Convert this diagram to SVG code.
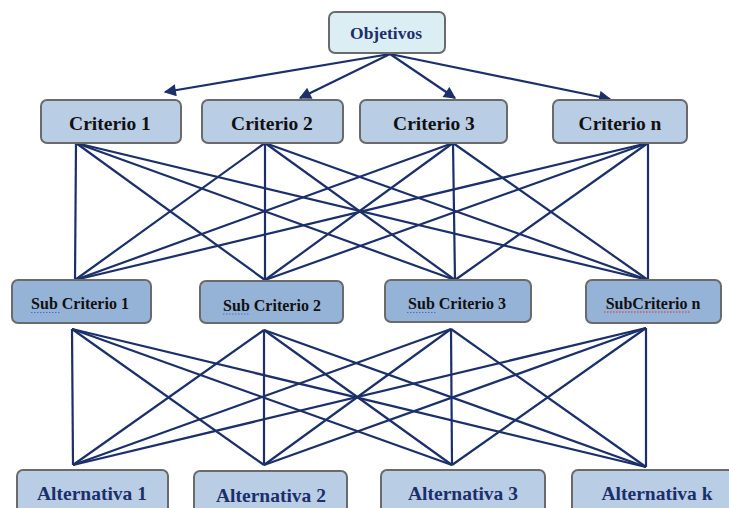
<svg xmlns="http://www.w3.org/2000/svg" width="729" height="508" viewBox="0 0 729 508">
<defs>
<marker id="arr" viewBox="0 0 10 10" refX="9" refY="5" markerWidth="6" markerHeight="5.5" markerUnits="strokeWidth" orient="auto">
<path d="M0,0 L10,5 L0,10 z" fill="#1B2F6B"/>
</marker>
<style>
.box{stroke:#6A6A6A;stroke-width:2}
.obj{fill:#DBEEF4}
.cri{fill:#B9CDE5}
.sub{fill:#95B3D7}
.alt{fill:#B9CDE5}
.t{font-family:"Liberation Serif","Times New Roman",serif;font-weight:bold;text-anchor:middle}
.tc{font-size:19.5px;fill:#111}
.ts{font-size:16px;fill:#111}
.ta{font-size:19.5px;fill:#1B2F6B}
.to{font-size:17.5px;fill:#1B2F6B}
.ln{stroke:#1B2F6B;stroke-width:2.2;fill:none}
.sp{stroke:#4A6FD0;stroke-width:1;stroke-dasharray:1.5 1.5}
.spr{stroke:#E03030;stroke-width:1;stroke-dasharray:1.5 1.5}
</style>
</defs>
<rect width="729" height="508" fill="#fff"/>
<g id="connectors">
<line class="ln" x1="390" y1="54" x2="165" y2="92" marker-end="url(#arr)"/>
<line class="ln" x1="390" y1="54" x2="300" y2="98" marker-end="url(#arr)"/>
<line class="ln" x1="390" y1="54" x2="455" y2="98" marker-end="url(#arr)"/>
<line class="ln" x1="390" y1="54" x2="610" y2="99" marker-end="url(#arr)"/>
<g>
<line class="ln" x1="76" y1="143" x2="75" y2="280"/>
<line class="ln" x1="76" y1="143" x2="265" y2="280"/>
<line class="ln" x1="76" y1="143" x2="455" y2="280"/>
<line class="ln" x1="76" y1="143" x2="648" y2="280"/>
<line class="ln" x1="265" y1="143" x2="75" y2="280"/>
<line class="ln" x1="265" y1="143" x2="265" y2="280"/>
<line class="ln" x1="265" y1="143" x2="455" y2="280"/>
<line class="ln" x1="265" y1="143" x2="648" y2="280"/>
<line class="ln" x1="453" y1="143" x2="75" y2="280"/>
<line class="ln" x1="453" y1="143" x2="265" y2="280"/>
<line class="ln" x1="453" y1="143" x2="455" y2="280"/>
<line class="ln" x1="453" y1="143" x2="648" y2="280"/>
<line class="ln" x1="648" y1="143" x2="75" y2="280"/>
<line class="ln" x1="648" y1="143" x2="265" y2="280"/>
<line class="ln" x1="648" y1="143" x2="455" y2="280"/>
<line class="ln" x1="648" y1="143" x2="648" y2="280"/>
</g>
<g>
<line class="ln" x1="72" y1="329" x2="73" y2="465"/>
<line class="ln" x1="72" y1="329" x2="264" y2="465"/>
<line class="ln" x1="72" y1="329" x2="452" y2="465"/>
<line class="ln" x1="72" y1="329" x2="646" y2="467"/>
<line class="ln" x1="264" y1="330" x2="73" y2="465"/>
<line class="ln" x1="264" y1="330" x2="264" y2="465"/>
<line class="ln" x1="264" y1="330" x2="452" y2="465"/>
<line class="ln" x1="264" y1="330" x2="646" y2="467"/>
<line class="ln" x1="451" y1="329" x2="73" y2="465"/>
<line class="ln" x1="451" y1="329" x2="264" y2="465"/>
<line class="ln" x1="451" y1="329" x2="452" y2="465"/>
<line class="ln" x1="451" y1="329" x2="646" y2="467"/>
<line class="ln" x1="646" y1="328" x2="73" y2="465"/>
<line class="ln" x1="646" y1="328" x2="264" y2="465"/>
<line class="ln" x1="646" y1="328" x2="452" y2="465"/>
<line class="ln" x1="646" y1="328" x2="646" y2="467"/>
</g>
</g>
<g id="objetivos"><rect class="box obj" x="329" y="12" width="116" height="41" rx="6"/><text class="t to" x="386" y="39">Objetivos</text></g>
<g id="criterio1"><rect class="box cri" x="41" y="100" width="140" height="43" rx="6"/><text class="t tc" x="110" y="130">Criterio 1</text></g>
<g id="criterio2"><rect class="box cri" x="202" y="100" width="141" height="43" rx="6"/><text class="t tc" x="272" y="130">Criterio 2</text></g>
<g id="criterio3"><rect class="box cri" x="360" y="100" width="147" height="43" rx="6"/><text class="t tc" x="434" y="130">Criterio 3</text></g>
<g id="criterion"><rect class="box cri" x="553" y="100" width="134" height="43" rx="6"/><text class="t tc" x="620" y="130">Criterio n</text></g>
<g id="subcriterio1"><rect class="box sub" x="12" y="280" width="139" height="43" rx="6"/><text class="t ts" x="80" y="309">Sub Criterio 1</text><line class="sp" x1="31" y1="312.5" x2="60" y2="312.5"/></g>
<g id="subcriterio2"><rect class="box sub" x="200" y="281" width="143" height="42" rx="6"/><text class="t ts" x="272" y="311">Sub Criterio 2</text><line class="sp" x1="223" y1="314" x2="250" y2="314"/></g>
<g id="subcriterio3"><rect class="box sub" x="385" y="280" width="146" height="42" rx="6"/><text class="t ts" x="457" y="309">Sub Criterio 3</text><line class="sp" x1="407" y1="312.5" x2="437" y2="312.5"/></g>
<g id="subcriterion"><rect class="box sub" x="586" y="280" width="135" height="43" rx="6"/><text class="t ts" x="653" y="309">SubCriterio n</text><line class="spr" x1="604" y1="312" x2="690" y2="312"/></g>
<g id="alternativa1"><rect class="box alt" x="17" y="470" width="151" height="48" rx="6"/><text class="t ta" x="92" y="500">Alternativa 1</text></g>
<g id="alternativa2"><rect class="box alt" x="194" y="471" width="153" height="48" rx="6"/><text class="t ta" x="271" y="502">Alternativa 2</text></g>
<g id="alternativa3"><rect class="box alt" x="381" y="470" width="164" height="48" rx="6"/><text class="t ta" x="463" y="500">Alternativa 3</text></g>
<g id="alternativak"><rect class="box alt" x="572" y="470" width="172" height="48" rx="6"/><text class="t ta" x="657" y="500">Alternativa k</text></g>
</svg>
